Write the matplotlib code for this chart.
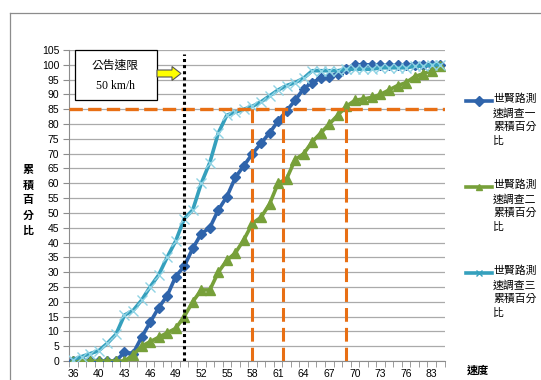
import numpy as np
import matplotlib
matplotlib.use('Agg')
import matplotlib.pyplot as plt
from matplotlib.lines import Line2D
from matplotlib.patches import Polygon, Rectangle

plt.rcParams['font.family'] = ['Noto Sans CJK TC', 'DejaVu Sans']

# speed categories (km/h) on the category axis
speeds = [36, 38, 39, 40, 41, 42, 43, 44, 45, 46, 47, 48, 49, 50, 51, 52, 53, 54,
          55, 56, 57, 58, 59, 60, 61, 62, 63, 64, 65, 66, 67, 68, 69, 70, 71, 72,
          73, 74, 75, 76, 78, 80, 83, 85]
tick_labels = ['36', '40', '43', '46', '49', '52', '55', '58', '61', '64', '67',
               '70', '73', '76', '83']

# cumulative percentage, survey 1 / 2 / 3
survey1 = [0, 0, 0, 0, 0, 0, 3, 2.5, 8, 13, 18, 22, 28.5, 32, 38, 43, 45, 51,
           55.5, 62, 66, 70, 73.5, 77, 81, 84.5, 88, 92, 94, 95.5, 96, 97, 98.5,
           100, 100, 100, 100, 100, 100, 100, 100, 100, 100, 100]
survey2 = [0, 0, 0, 0, 0, 0, 0, 2, 5, 6.5, 8, 9.5, 11, 15, 20, 24, 24, 30,
           34, 36.5, 41, 46.5, 48.5, 53, 60, 61.5, 68, 70, 74, 77, 80, 83, 86,
           88, 88.5, 89, 90, 91.5, 93, 94, 96, 97, 98, 99.5]
survey3 = [0.5, 1.5, 2.5, 3.5, 6, 9, 15.5, 17, 20.5, 25, 29, 35, 40.5, 48, 51,
           60, 67, 77, 83, 84, 85, 86, 87.5, 89.5, 91.5, 93, 94, 95.5, 98, 98,
           98, 98, 98.5, 98.5, 98.5, 98.5, 99, 99, 99, 99, 99.5, 99.5, 100, 100]

series_names = ['世賢路測\n速調查一\n累積百分\n比',
                '世賢路測\n速調查二\n累積百分\n比',
                '世賢路測\n速調查三\n累積百分\n比']
limit_speed = 50
pct85 = 85
speed85 = [58, 61.6, 69]

W, H = 541, 380
fig = plt.figure(figsize=(W / 100, H / 100), dpi=100)


def fx(x):
    return x / W


def fy(y):
    return 1 - y / H


# chart frame (top and left edges visible)
fig.add_artist(Line2D([fx(9.5), 1], [fy(12.5), fy(12.5)], color='#8c8c8c', lw=0.9))
fig.add_artist(Line2D([fx(9.5), fx(9.5)], [fy(12.5), 0], color='#8c8c8c', lw=0.9))

ax = fig.add_axes([fx(69), fy(361), fx(444.5) - fx(69), fy(50) - fy(361)])
idx = np.arange(len(speeds))

colors = ['#2f64ab', '#77a03a', '#35a0bd']
ax.plot(idx, survey1, color=colors[0], lw=2.6, marker='D', ms=5.5, zorder=3)
ax.plot(idx, survey2, color=colors[1], lw=2.6, marker='^', ms=6.5, zorder=3)
ax.plot(idx, survey3, color=colors[2], lw=2.6, marker='x', ms=6.5,
        mec='#8fd3e4', mew=1.0, zorder=4)

# 85th percentile guide lines
orange = '#e86f14'
ax.axhline(pct85, color=orange, lw=2.4, dashes=(4, 1.6), zorder=5)
for v in speed85:
    xv = np.interp(v, speeds, idx)
    ax.plot([xv, xv], [0, pct85], color=orange, lw=2.2, dashes=(4.5, 2), zorder=5)

# speed limit line
xl = np.interp(limit_speed, speeds, idx)
ax.plot([xl, xl], [0, 103.5], color='black', lw=2.2, linestyle=(0, (1, 1)), zorder=6)

ax.set_xlim(-0.5, len(speeds) - 0.5)
ax.set_ylim(0, 105)
ax.set_yticks(np.arange(0, 106, 5))
ax.set_xticks(idx[::3])
ax.set_xticklabels(tick_labels)
ax.set_xticks(np.arange(-0.5, len(speeds), 1), minor=True)
ax.tick_params(axis='x', which='major', length=0, pad=6)
ax.tick_params(axis='x', which='minor', length=4, color='#8c8c8c')
ax.tick_params(axis='y', length=4, color='#8c8c8c', pad=3)
for lab in ax.get_xticklabels() + ax.get_yticklabels():
    lab.set_fontfamily('Liberation Sans')
    lab.set_fontsize(7.5)
ax.grid(axis='y', color='#aaaaaa', lw=0.9)
ax.set_axisbelow(True)
for s in ['top', 'right']:
    ax.spines[s].set_visible(False)
ax.spines['left'].set_color('#8c8c8c')
ax.spines['bottom'].set_color('#8c8c8c')

# axis titles
fig.text(fx(28), fy(200), '累\n積\n百\n分\n比', ha='center', va='center',
         fontsize=8, fontweight='bold', linespacing=1.2)
fig.text(fx(478), fy(370), '速度', ha='center', va='center', fontsize=8,
         fontweight='bold')

# legend
markers = ['D', '^', 'x']
leg_y = [101, 187, 273]
for name, c, m, y in zip(series_names, colors, markers, leg_y):
    fig.add_artist(Line2D([fx(466), fx(492)], [fy(y), fy(y)], color=c, lw=2.6))
    fig.add_artist(Line2D([fx(479)], [fy(y)], color=c, marker=m, ms=5))
    fig.text(fx(493), fy(y - 7.5), name, ha='left', va='top', fontsize=7.8,
             linespacing=1.45)

# speed limit note and arrow
fig.add_artist(Rectangle((fx(75), fy(100)), fx(156.5) - fx(75), fy(50) - fy(100),
                         transform=fig.transFigure, facecolor='white',
                         edgecolor='black', lw=0.9, zorder=7))
fig.text(fx(115.5), fy(65), '公告速限', ha='center', va='center', fontsize=8.5,
         zorder=8)
fig.text(fx(115.5), fy(86), '50 km/h', ha='center', va='center', fontsize=8.5,
         family='Liberation Serif', zorder=8)
arrow_px = [(157, 70), (172, 70), (172, 66.5), (181, 73.5), (172, 80.5), (172, 77), (157, 77)]
fig.add_artist(Polygon([(fx(x), fy(y)) for x, y in arrow_px], closed=True,
                       transform=fig.transFigure, facecolor='#ffff00',
                       edgecolor='#555555', lw=0.8, zorder=8))

fig.savefig('out.png', dpi=100)
